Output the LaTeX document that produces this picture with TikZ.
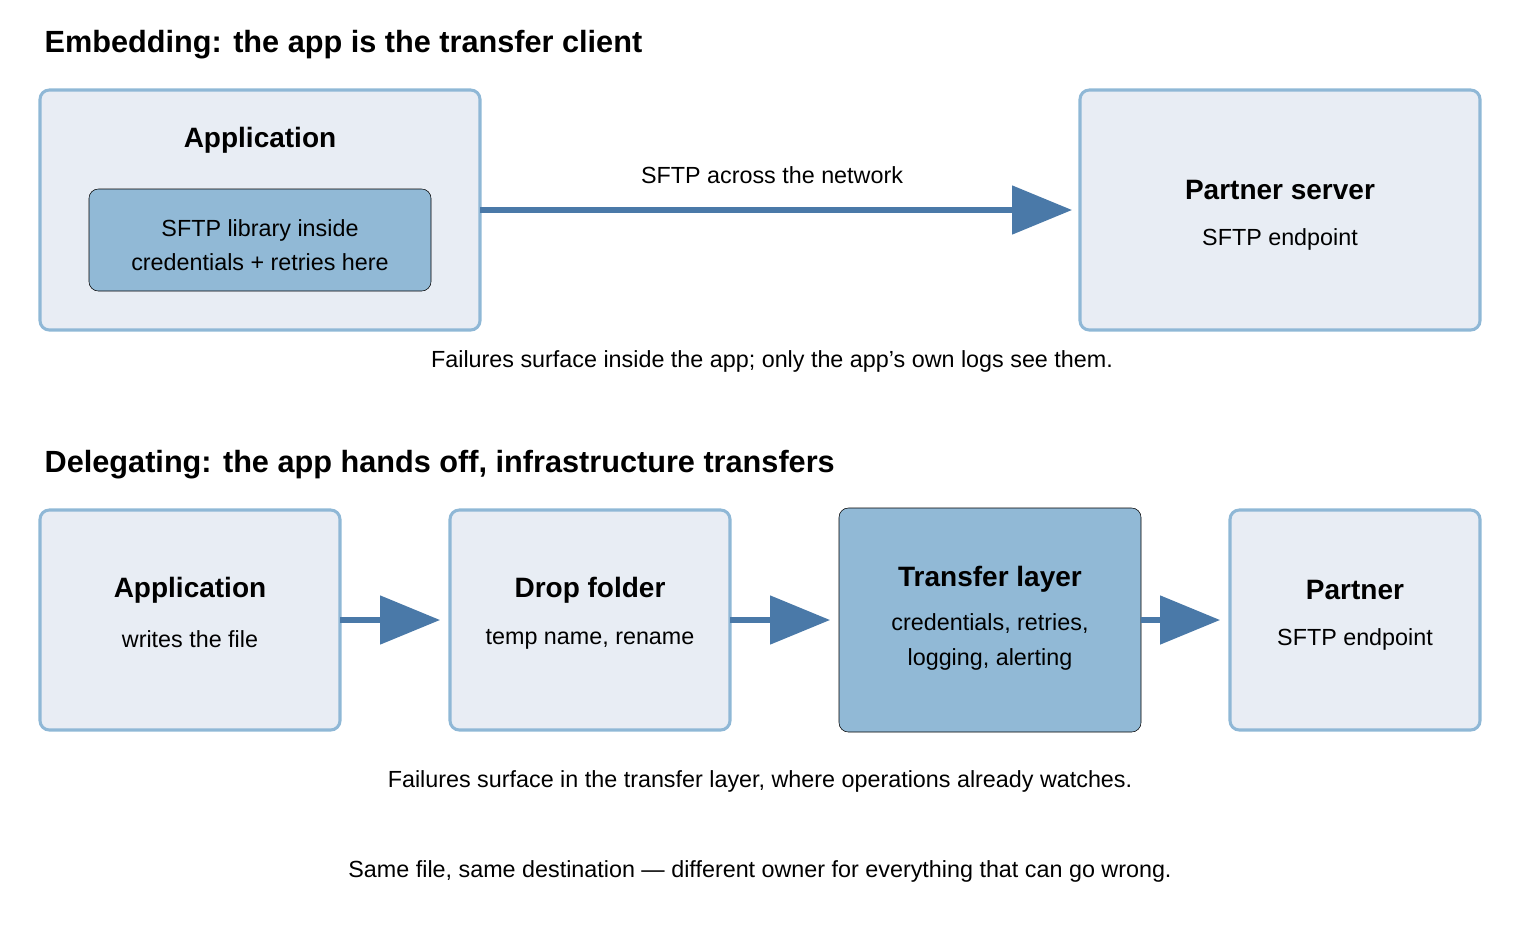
\documentclass[tikz,border=0pt]{standalone}
\usepackage{fontspec}
\setmainfont{Liberation Sans}
\usetikzlibrary{arrows.meta}
\definecolor{boxfill}{HTML}{E8EDF4}
\definecolor{boxline}{HTML}{8FB8D6}
\definecolor{dark}{HTML}{91B9D6}
\definecolor{arr}{HTML}{4A79A8}
\begin{document}
\begin{tikzpicture}[x=0.75pt,y=-0.75pt,
  box/.style={draw=boxline,fill=boxfill,line width=2.3pt,rounded corners=7pt},
  dbox/.style={fill=dark,rounded corners=7pt},
  ttl/.style={font=\fontsize{23}{27}\selectfont\bfseries,anchor=west},
  hd/.style={font=\fontsize{21}{25}\selectfont\bfseries},
  tx/.style={font=\fontsize{17.5}{26}\selectfont,align=center},
  con/.style={draw=arr,line width=3.8pt,-{Triangle[length=45pt,width=36pt]}}]
\useasboundingbox (0,0) rectangle (1520,940);
\node[ttl] (t1) at (40,45) {Embedding: the app is the transfer client};
\draw[box] (40,90) rectangle (480,330);
\coordinate (a1e) at (480,210);
\node[hd] (a1) at (260,140) {Application};
\draw[dbox] (89,189) rectangle (431,291);
\node[tx] (lib) at (260,245) {SFTP library inside\\credentials + retries here};
\draw[box] (1080,90) rectangle (1480,330);
\coordinate (p1w) at (1072,210);
\node[hd] (p1) at (1280,190) {Partner server};
\node[tx] (p1s) at (1280,239) {SFTP endpoint};
\draw[con] (a1e) -- (p1w);
\node[tx] (lbl) at (772,175) {SFTP across the network};
\node[tx] (c1) at (772,361) {Failures surface inside the app; only the app's own logs see them.};

\node[ttl] (t2) at (40,465) {Delegating: the app hands off, infrastructure transfers};
\draw[box] (40,510) rectangle (340,730);
\node[hd] (a2) at (190,590) {Application};
\node[tx] (a2s) at (190,639) {writes the file};
\draw[box] (450,510) rectangle (730,730);
\node[hd] (d2) at (590,590) {Drop folder};
\node[tx] (d2s) at (590,639) {temp name, rename};
\draw[dbox] (839,508) rectangle (1141,732);
\node[hd] (tl) at (990,579) {Transfer layer};
\node[tx] (tls) at (990,642) {credentials, retries,\\logging, alerting};
\draw[box] (1230,510) rectangle (1480,730);
\node[hd] (p2) at (1355,590) {Partner};
\node[tx] (p2s) at (1355,639) {SFTP endpoint};
\coordinate (e1a) at (340,620); \coordinate (e1b) at (440,620);
\coordinate (e2a) at (730,620); \coordinate (e2b) at (830,620);
\coordinate (e3a) at (1141,620); \coordinate (e3b) at (1220,620);
\draw[con] (e1a) -- (e1b);
\draw[con] (e2a) -- (e2b);
\draw[con] (e3a) -- (e3b);
\node[tx] (c2) at (760,781) {Failures surface in the transfer layer, where operations already watches.};
\node[tx] (c3) at (760,871) {Same file, same destination — different owner for everything that can go wrong.};
\end{tikzpicture}
\end{document}
